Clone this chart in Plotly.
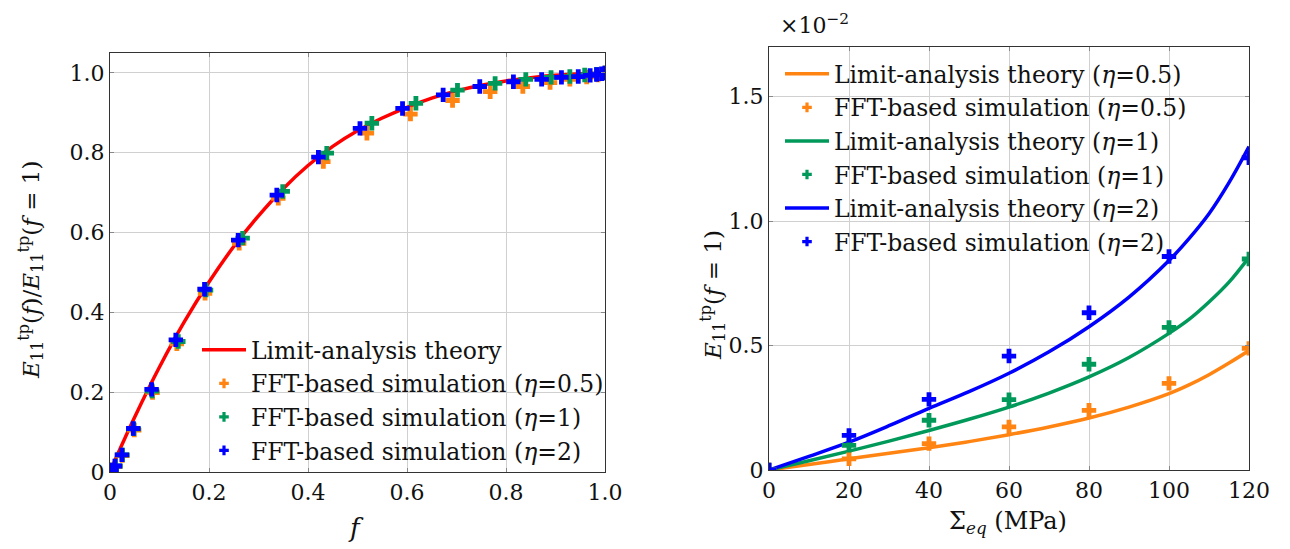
import plotly.graph_objects as go

# ---------------- Left panel data ----------------
f_theory = [0, 0.02, 0.05, 0.10, 0.15, 0.20, 0.25, 0.30, 0.35, 0.40, 0.45, 0.50,
            0.55, 0.60, 0.65, 0.70, 0.75, 0.80, 0.85, 0.90, 0.95, 1.0]
e_theory = [0, 0.057, 0.138, 0.263, 0.376, 0.476, 0.565, 0.642, 0.710, 0.768, 0.816, 0.855,
            0.887, 0.914, 0.937, 0.955, 0.969, 0.980, 0.988, 0.994, 0.998, 1.0]

f_eta05 = [0, 0.003, 0.011, 0.025, 0.049, 0.086, 0.135, 0.192, 0.261, 0.340, 0.431, 0.519,
           0.607, 0.692, 0.768, 0.834, 0.889, 0.929, 0.963, 0.986, 1.0]
e_eta05 = [0, 0.005, 0.014, 0.041, 0.105, 0.199, 0.321, 0.448, 0.573, 0.686, 0.778, 0.849,
           0.897, 0.931, 0.953, 0.966, 0.976, 0.984, 0.990, 0.995, 1.0]

f_eta1 = [0, 0.003, 0.011, 0.025, 0.048, 0.085, 0.138, 0.194, 0.268, 0.349, 0.438, 0.529,
          0.618, 0.702, 0.778, 0.840, 0.891, 0.929, 0.959, 0.983, 1.0]
e_eta1 = [0, 0.005, 0.015, 0.043, 0.108, 0.203, 0.327, 0.456, 0.586, 0.703, 0.799, 0.874,
          0.924, 0.957, 0.974, 0.984, 0.989, 0.991, 0.995, 0.997, 1.0]

f_eta2 = [0, 0.003, 0.010, 0.024, 0.047, 0.084, 0.133, 0.191, 0.259, 0.337, 0.421, 0.505,
          0.591, 0.673, 0.747, 0.815, 0.872, 0.912, 0.946, 0.970, 0.983, 0.993, 1.0]
e_eta2 = [0, 0.005, 0.015, 0.043, 0.109, 0.207, 0.331, 0.458, 0.581, 0.694, 0.789, 0.861,
          0.911, 0.945, 0.966, 0.978, 0.984, 0.989, 0.991, 0.994, 0.996, 0.998, 1.0]

# ---------------- Right panel data (x 10^-2) ----------------
sig_theory = [0, 10, 20, 30, 40, 50, 60, 70, 80, 90, 100, 105, 110, 115, 120]
th_eta05 = [0, 0.022, 0.045, 0.067, 0.089, 0.114, 0.142, 0.173, 0.209, 0.253, 0.307, 0.342, 0.383, 0.430, 0.480]
th_eta1 = [0, 0.037, 0.076, 0.116, 0.159, 0.204, 0.253, 0.309, 0.374, 0.452, 0.549, 0.605, 0.675, 0.755, 0.855]
th_eta2 = [0, 0.055, 0.112, 0.178, 0.248, 0.315, 0.389, 0.475, 0.576, 0.695, 0.842, 0.930, 1.030, 1.155, 1.300]

sig_fft = [0, 20, 40, 60, 80, 100, 120]
fft_eta05 = [0, 0.045, 0.106, 0.173, 0.240, 0.348, 0.489]
fft_eta1 = [0, 0.099, 0.200, 0.283, 0.425, 0.573, 0.848]
fft_eta2 = [0, 0.139, 0.284, 0.458, 0.632, 0.858, 1.255]

x1_ticks = [0, 0.2, 0.4, 0.6, 0.8, 1.0]
x1_labels = ["0", "0.2", "0.4", "0.6", "0.8", "1.0"]
y1_ticks = [0, 0.2, 0.4, 0.6, 0.8, 1.0]
y1_labels = ["0", "0.2", "0.4", "0.6", "0.8", "1.0"]
x2_ticks = [0, 20, 40, 60, 80, 100, 120]
x2_labels = ["0", "20", "40", "60", "80", "100", "120"]
y2_ticks = [0, 0.5, 1.0, 1.5]
y2_labels = ["0", "0.5", "1.0", "1.5"]

RED = "#ff0000"
ORANGE = "#ff8412"
GREEN = "#00995a"
BLUE = "#0000ff"
FONT = "DejaVu Serif"

# page body has an 8 px margin; work in screenshot pixels
OFF = 8
W, H = 1282, 541


def px(x):
    return (x - OFF) / W


def py(y):
    return 1 - (y - OFF) / H


fig = go.Figure()

LW = 3.5
MS = 12
LMS = 8

# Left panel
fig.add_trace(go.Scatter(x=f_theory, y=e_theory, mode="lines", line=dict(color=RED, width=LW, shape="spline"),
                         name="Limit-analysis theory", legend="legend", xaxis="x", yaxis="y"))
for fx, fy, col, nm in [(f_eta05, e_eta05, ORANGE, "FFT-based simulation (<i>η</i>=0.5)"),
                        (f_eta1, e_eta1, GREEN, "FFT-based simulation (<i>η</i>=1)"),
                        (f_eta2, e_eta2, BLUE, "FFT-based simulation (<i>η</i>=2)")]:
    fig.add_trace(go.Scatter(x=fx, y=fy, mode="markers", showlegend=False,
                             marker=dict(symbol="cross", size=MS, color=col, line=dict(width=0)),
                             xaxis="x", yaxis="y"))
    fig.add_trace(go.Scatter(x=[None], y=[None], mode="markers", name=nm, legend="legend",
                             marker=dict(symbol="cross", size=LMS, color=col, line=dict(width=0)),
                             xaxis="x", yaxis="y"))

# Right panel
for th, col, eta in [(th_eta05, ORANGE, "0.5"), (th_eta1, GREEN, "1"), (th_eta2, BLUE, "2")]:
    fig.add_trace(go.Scatter(x=sig_theory, y=th, mode="lines", line=dict(color=col, width=LW, shape="spline"),
                             name=f"Limit-analysis theory (<i>η</i>={eta})", legend="legend2",
                             xaxis="x2", yaxis="y2"))
    fig.add_trace(go.Scatter(x=[None], y=[None], mode="markers", name=f"FFT-based simulation (<i>η</i>={eta})",
                             legend="legend2",
                             marker=dict(symbol="cross", size=LMS, color=col, line=dict(width=0)),
                             xaxis="x2", yaxis="y2"))
for ff, col in [(fft_eta05, ORANGE), (fft_eta1, GREEN), (fft_eta2, BLUE)]:
    fig.add_trace(go.Scatter(x=sig_fft, y=ff, mode="markers", showlegend=False,
                             marker=dict(symbol="cross", size=MS, color=col, line=dict(width=0)),
                             xaxis="x2", yaxis="y2"))

axis_common = dict(showgrid=True, gridcolor="#d0d0d0", gridwidth=1, showline=True, linecolor="#333333",
                   linewidth=1.2, mirror="allticks", ticks="inside", ticklen=4, tickcolor="#888888",
                   zeroline=False, tickfont=dict(family=FONT, size=22, color="#111111"))

LEGFONT = dict(family=FONT, size=23.5, color="#111111")

fig.update_layout(
    width=W, height=H,
    margin=dict(l=0, r=0, t=0, b=0, autoexpand=False),
    paper_bgcolor="white", plot_bgcolor="white",
    font=dict(family=FONT, size=22, color="#111111"),
    xaxis=dict(domain=[px(110), px(605)], range=[0, 1], tickvals=x1_ticks, ticktext=x1_labels,
               anchor="y", **axis_common),
    yaxis=dict(domain=[py(472), py(53)], range=[0, 1.05], tickvals=y1_ticks, ticktext=y1_labels,
               anchor="x", **axis_common),
    xaxis2=dict(domain=[px(769), px(1249)], range=[0, 120], tickvals=x2_ticks, ticktext=x2_labels,
                anchor="y2", **axis_common),
    yaxis2=dict(domain=[py(470), py(47)], range=[0, 1.7], tickvals=y2_ticks, ticktext=y2_labels,
                anchor="x2", **axis_common),
    legend=dict(x=px(197), y=py(328), xanchor="left", yanchor="top", bgcolor="rgba(0,0,0,0)",
                font=LEGFONT, tracegroupgap=0, itemwidth=44),
    legend2=dict(x=px(780), y=py(52), xanchor="left", yanchor="top", bgcolor="rgba(0,0,0,0)",
                 font=LEGFONT, tracegroupgap=0, itemwidth=44),
    annotations=[
        dict(text="<i>f</i>", x=px(356), y=py(528), xref="paper", yref="paper", showarrow=False,
             font=dict(family=FONT, size=26), xanchor="center", yanchor="middle"),
        dict(text="Σ<sub><i>eq</i></sub> (MPa)", x=px(1008), y=py(522), xref="paper", yref="paper",
             showarrow=False, font=dict(family=FONT, size=24), xanchor="center", yanchor="middle"),
        dict(text="<i>E</i><sub>11</sub><sup>tp</sup>(<i>f</i>)/<i>E</i><sub>11</sub><sup>tp</sup>(<i>f</i> = 1)",
             x=px(30), y=py(270), xref="paper", yref="paper", showarrow=False, textangle=-90,
             font=dict(family=FONT, size=23), xanchor="center", yanchor="middle"),
        dict(text="<i>E</i><sub>11</sub><sup>tp</sup>(<i>f</i> = 1)",
             x=px(712), y=py(295), xref="paper", yref="paper", showarrow=False, textangle=-90,
             font=dict(family=FONT, size=23), xanchor="center", yanchor="middle"),
        dict(text="×10<sup>−2</sup>", x=px(778), y=py(24), xref="paper", yref="paper", showarrow=False,
             font=dict(family=FONT, size=22), xanchor="left", yanchor="middle"),
    ],
)

fig.write_html("out.html")
